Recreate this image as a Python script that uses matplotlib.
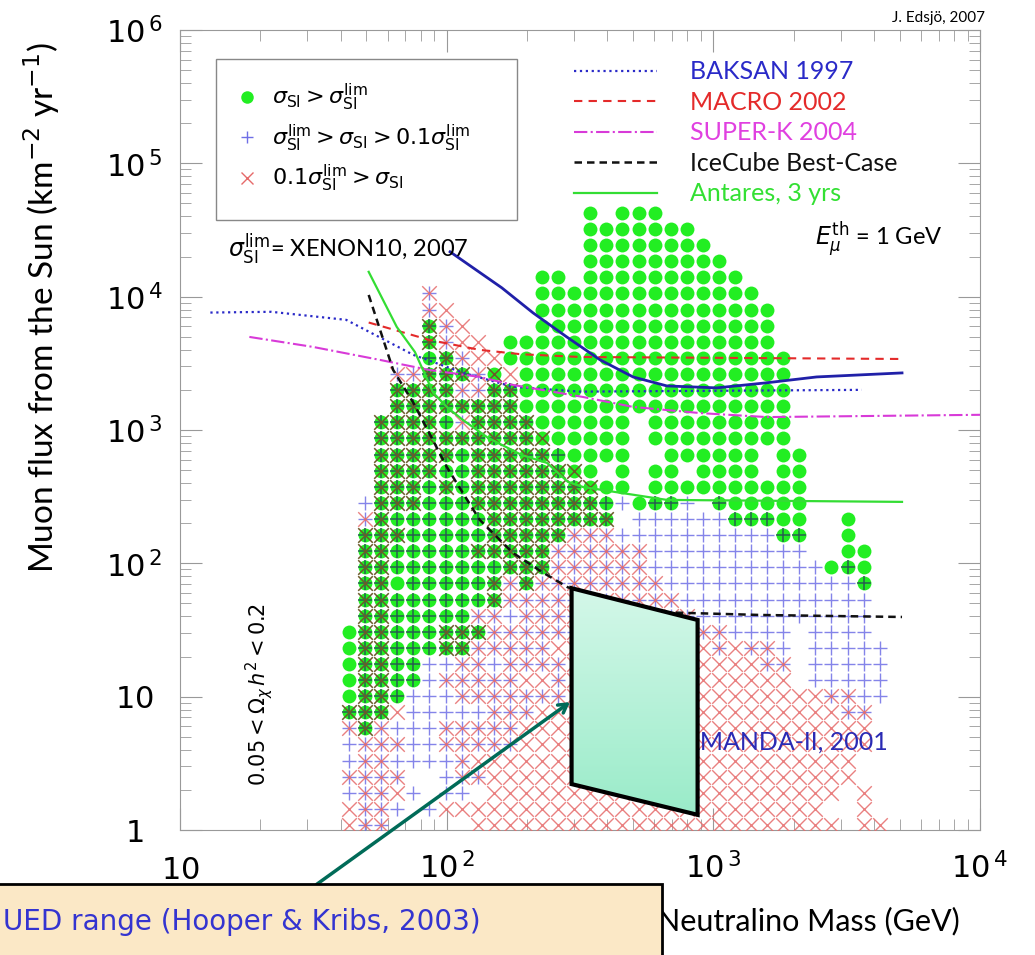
import numpy as np
import matplotlib.pyplot as plt
from matplotlib.lines import Line2D
from matplotlib.patches import Polygon, Rectangle
from matplotlib.colors import LinearSegmentedColormap

plt.rcParams['font.family'] = ['Lato', 'DejaVu Sans']
plt.rcParams['mathtext.fontset'] = 'dejavusans'

# scan grid (log bins)
mass_grid = np.logspace(1.634, 1.634 + 0.0603 * 33, 34)    # GeV
flux_grid = np.logspace(0.0375, 0.0375 + 0.1208 * 38, 39)  # km^-2 yr^-1

# cell contents, top row first
# o: sigma > lim   +: lim > sigma > 0.1 lim   x: 0.1 lim > sigma
# G: o,+,x   g: o,+   X: o,x   *: +,x
cells = [
    "...............o.ooo..............",
    "...............ooooooo............",
    "...............oooooooo...........",
    "...............ooooooooo..........",
    "............oo.oooooooooo.........",
    ".....*......oooooooooooooo........",
    ".....*x.....ooooooooooooooo.......",
    ".....G*x....ooooooooooooooo.......",
    ".....G*xx.ooooooooooooooooo.......",
    ".....gG*xxoooooooooooooooooo......",
    "...**GGG*Xxooooooooooooooooo......",
    "...GGGG**GGooooooooooooooooo......",
    "...GGGGGGGGooooooooooooooooo......",
    "..GGGGg*GGGGoooooo.ooooooooo......",
    "..GGGGGGGGGGXooooo.ooooooooo......",
    "..GGGGGgGGGGGgoooo..oooooo.oo.....",
    "..GGGGggGGGGGGXo.o.oo.oooo.oo.....",
    "..GGGgGgGGGGGGGXoo.oooooooooo.....",
    ".+GGGgggGGGGGGGGg+ogg+.gooooo.....",
    ".*GggggggGGGGGGGG.++++++gggoo..o..",
    ".GGGgggggGGGGG***++++++++++gg..o..",
    ".GGgggggGGGGG******++++++++++..oo.",
    ".GGgggggggGGG******+++++++++++ogo.",
    ".GGogggggG*G********++++++++++++g.",
    ".GGggggggG***********++++++++++++.",
    ".GGggggg**+***********+++++++++++.",
    "oGGgggGGG***************++++.++++.",
    "oGGgggGG*****xx*x*x*xxx*x**+.+++++",
    "oGGgg++**+****x*xx*xxxxxxx**.+++++",
    "oGGgg+*****xx*xxxxxxxxxxxxxx.+++++",
    "oGGg+++*******xxxxxxxxxxxxxxxx**++",
    "GGGx+++++***xxxxxxxxxxxxxxxxxxx**.",
    "*G*+++*****xxxxxxxxxxxxxxxxxxxxxx.",
    "+***++*****xxxxxxxxxxxxxxxxxxxxxx.",
    "+**++++*xxxxxxxxxxxxxxxxxxxxxxxx..",
    "****..+**xxxxxxxxxxxxxxxxxxxxxxx..",
    "+**x+.++.xxxxxxxxxxxxxxxxxxxxxx.x.",
    "x**+.+xxxxxxxxxxxxxxxxxxxxxxxx..x.",
    "x**.....xxxxxxxxxxxxxxxxxxxxxxx.xx",
]

# experimental limits / sensitivities
baksan_m = [13, 22, 42, 75, 115, 177, 316, 3600]
baksan_f = [7600, 7700, 6700, 3660, 2690, 2110, 1940, 2000]
macro_m = [51, 86, 133, 190, 316, 5000]
macro_f = [6400, 4740, 3990, 3700, 3530, 3410]
superk_m = [18.2, 31.5, 56, 86, 133, 177, 324, 500, 890, 1585, 10000]
superk_f = [4990, 4200, 3360, 2820, 2500, 2180, 1770, 1490, 1340, 1250, 1300]
icecube_m = [51, 63, 75, 86, 100, 115, 133, 177, 228, 285, 631, 1496, 5100]
icecube_f = [10300, 2820, 1600, 950, 530, 337, 212, 120, 86, 66, 43, 41, 39.6]
antares_m = [51, 65, 76, 89, 101, 115, 143, 191, 238, 285, 324, 428, 670, 5100]
antares_f = [15350, 5930, 3850, 1900, 1465, 1190, 873, 650, 566, 408, 374, 343, 299, 289]
amanda_m = [103, 161, 211, 282, 376, 500, 670, 1031, 1585, 2440, 5100]
amanda_f = [21700, 11650, 7550, 4990, 3360, 2500, 2140, 2070, 2260, 2500, 2680]

# UED region (Hooper & Kribs, 2003)
ued_m = [294, 873, 873, 294]
ued_f = [65.1, 37.6, 1.30, 2.21]

green_m, green_f = [], []
plus_m, plus_f, cross_m, cross_f = [], [], [], []
gplus_m, gplus_f, gcross_m, gcross_f = [], [], [], []
for i, row in enumerate(cells):
    f = flux_grid[len(cells) - 1 - i]
    for k, c in enumerate(row.ljust(34)[:34]):
        m = mass_grid[k]
        if c in 'oGgX':
            green_m.append(m); green_f.append(f)
        if c in '+*':
            plus_m.append(m); plus_f.append(f)
        if c in 'x*':
            cross_m.append(m); cross_f.append(f)
        if c in 'Gg':
            gplus_m.append(m); gplus_f.append(f)
        if c in 'GX':
            gcross_m.append(m); gcross_f.append(f)

fig = plt.figure(figsize=(10.35, 9.55), dpi=100)
fig.patch.set_facecolor('white')
ax = fig.add_axes([180 / 1035, 125 / 955, 800 / 1035, 800 / 955])
ax.set_xscale('log')
ax.set_yscale('log')

ax.scatter(green_m, green_f, s=100, c='#22ee22', marker='o', linewidths=0, zorder=2)
ax.scatter(plus_m, plus_f, s=110, c='#6f6fe6', marker='+', linewidths=1.0, alpha=0.85, zorder=3)
ax.scatter(cross_m, cross_f, s=110, c='#e66a6a', marker='x', linewidths=1.0, alpha=0.85, zorder=3)
ax.scatter(gplus_m, gplus_f, s=110, c='#27614f', marker='+', linewidths=1.1, zorder=3)
ax.scatter(gcross_m, gcross_f, s=110, c='#6b5a2a', marker='x', linewidths=1.1, zorder=3)

ax.plot(baksan_m, baksan_f, ls=':', color='#2a2ac8', lw=1.6, zorder=4)
ax.plot(macro_m, macro_f, ls=(0, (4, 3)), color='#e42a2a', lw=1.5, zorder=4)
ax.plot(superk_m, superk_f, ls='-.', color='#d83ad8', lw=1.5, zorder=4)
ax.plot(icecube_m, icecube_f, ls=(0, (3, 2)), color='#111111', lw=1.8, zorder=4)
ax.plot(antares_m, antares_f, ls='-', color='#33dd33', lw=1.6, zorder=4)
ax.plot(amanda_m, amanda_f, ls='-', color='#2020a8', lw=2.0, zorder=4)

# UED box with gradient
poly = Polygon(list(zip(ued_m, ued_f)), closed=True, fc='none', ec='black', lw=3, zorder=6)
ax.add_patch(poly)
cmap = LinearSegmentedColormap.from_list('mint', ['#98ebc8', '#d6f8ea'])
grad = np.linspace(0, 1, 256).reshape(-1, 1)
im = ax.imshow(grad, cmap=cmap, origin='lower', aspect='auto',
               extent=[0.48, 0.66, 0.01, 0.31], transform=ax.transAxes, zorder=5)
im.set_clip_path(poly)

ax.set_xlim(10, 1e4)
ax.set_ylim(1, 1e6)

ax.set_xticks([10, 100, 1000, 10000])
ax.set_xticklabels([r'$10$', r'$10^{\,2}$', r'$10^{\,3}$', r'$10^{\,4}$'])
ax.set_yticks([1, 10, 100, 1e3, 1e4, 1e5, 1e6])
ax.set_yticklabels([r'$1$', r'$10$', r'$10^{\,2}$', r'$10^{\,3}$', r'$10^{\,4}$',
                    r'$10^{\,5}$', r'$10^{\,6}$'])
ax.tick_params(which='both', direction='in', top=True, right=True,
               color='#999999', labelsize=22)
ax.tick_params(which='major', length=16)
ax.tick_params(which='minor', length=8)
ax.tick_params(axis='x', pad=35)
ax.tick_params(axis='y', pad=33)
for lab in ax.get_xticklabels():
    lab.set_va('baseline')
for lab in ax.get_yticklabels():
    lab.set_ha('center')
for sp in ax.spines.values():
    sp.set_color('#999999')

# legend of the scan points
ax.add_patch(Rectangle((0.045, 0.7625), 0.37625, 0.20125, transform=ax.transAxes,
                       fill=False, ec='#888888', lw=1, zorder=7))
h1 = [Line2D([], [], ls='none', marker='o', ms=9, mfc='#22ee22', mec='none'),
      Line2D([], [], ls='none', marker='+', ms=9, mew=1, color='#6f6fe6'),
      Line2D([], [], ls='none', marker='x', ms=9, mew=1, color='#e66a6a')]
l1 = [r'$\sigma_{\rm SI} > \sigma_{\rm SI}^{\rm lim}$',
      r'$\sigma_{\rm SI}^{\rm lim} > \sigma_{\rm SI} > 0.1\sigma_{\rm SI}^{\rm lim}$',
      r'$0.1\sigma_{\rm SI}^{\rm lim} > \sigma_{\rm SI}$']
leg1 = ax.legend(h1, l1, loc='upper left', bbox_to_anchor=(0.07, 0.935), frameon=False,
                 fontsize=16, handlelength=1.0, handletextpad=0.6, labelspacing=0.42,
                 borderpad=0, borderaxespad=0)
ax.add_artist(leg1)

h2 = [Line2D([], [], ls=':', color='#2a2ac8', lw=1.6),
      Line2D([], [], ls=(0, (4, 3)), color='#e42a2a', lw=1.5),
      Line2D([], [], ls='-.', color='#d83ad8', lw=1.5),
      Line2D([], [], ls=(0, (3, 2)), color='#111111', lw=1.8),
      Line2D([], [], ls='-', color='#33dd33', lw=1.6)]
l2 = ['BAKSAN 1997', 'MACRO 2002', 'SUPER-K 2004', 'IceCube Best-Case', 'Antares, 3 yrs']
ax.legend(h2, l2, loc='upper left', bbox_to_anchor=(0.4925, 0.962), frameon=False,
          fontsize=18, handlelength=3.3, handletextpad=1.35, labelspacing=0.3,
          borderpad=0, borderaxespad=0,
          labelcolor=['#2a2ac8', '#e42a2a', '#e040e0', '#111111', '#33e033'])

ax.text(0.06, 0.716, r'$\sigma_{\rm SI}^{\rm lim}$= XENON10, 2007', transform=ax.transAxes,
        fontsize=17, va='baseline', zorder=7)
ax.text(0.794, 0.731, r'$E_{\mu}^{\rm th}$ = 1 GeV', transform=ax.transAxes,
        fontsize=17, va='baseline', zorder=7)
ax.text(0.099, 0.17, r'$0.05 < \Omega_{\chi}\,h^{2} < 0.2$', transform=ax.transAxes,
        fontsize=15, rotation=90, ha='center', va='center', zorder=7)
ax.text(0.629, 0.1, 'AMANDA-II, 2001', transform=ax.transAxes, color='#2a2ab4',
        fontsize=18, va='baseline', zorder=4)

ax.annotate('', xy=(290, 9.1), xycoords='data', xytext=(0.306, 0.074),
            textcoords='figure fraction', annotation_clip=False, zorder=7,
            arrowprops=dict(arrowstyle='->,head_length=0.6,head_width=0.35',
                            color='#006b58', lw=2.5, shrinkA=0, shrinkB=0))

fig.text(0.04, 0.678, r'Muon flux from the Sun (km$^{-2}$ yr$^{-1}$)', rotation=90,
         ha='center', va='center', fontsize=24)
fig.text(0.952, 0.977, 'J. Edsjö, 2007', ha='right', va='baseline', fontsize=11)
fig.text(0.781, 0.035, 'Neutralino Mass (GeV)', ha='center', va='center', fontsize=22,
         zorder=3)

fig.patches.append(Rectangle((-0.01, -0.05), 0.6496, 0.1243, transform=fig.transFigure,
                             fc='#fbe8c6', ec='black', lw=2, zorder=10))
fig.text(0.003, 0.035, 'UED range (Hooper & Kribs, 2003)', ha='left', va='center',
         fontsize=20, color='#3434d0', family='DejaVu Sans', zorder=11)

fig.savefig('out.png', dpi=100)
